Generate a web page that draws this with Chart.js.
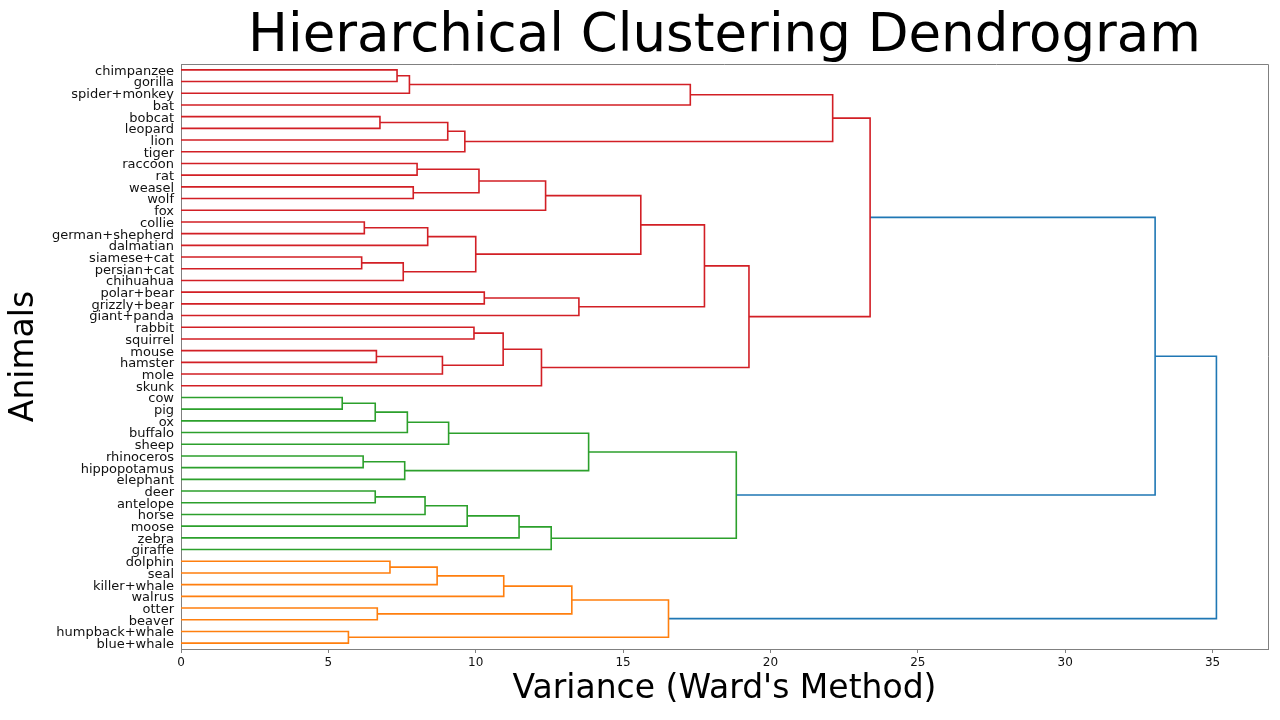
<!DOCTYPE html>
<html><head><meta charset="utf-8">
<script src="https://cdn.jsdelivr.net/npm/chart.js@4.4.1/dist/chart.umd.min.js"></script>
<style>html,body{margin:0;padding:0;background:#fff;}</style>
</head><body>
<canvas id="c" width="1280" height="720"></canvas>
<script>
// Leaves, listed from top to bottom
const leafLabels = [
  'chimpanzee','gorilla','spider+monkey','bat','bobcat','leopard','lion','tiger',
  'raccoon','rat','weasel','wolf','fox','collie','german+shepherd','dalmatian',
  'siamese+cat','persian+cat','chihuahua','polar+bear','grizzly+bear','giant+panda',
  'rabbit','squirrel','mouse','hamster','mole','skunk',
  'cow','pig','ox','buffalo','sheep','rhinoceros','hippopotamus','elephant',
  'deer','antelope','horse','moose','zebra','giraffe',
  'dolphin','seal','killer+whale','walrus','otter','beaver','humpback+whale','blue+whale'
];
// Links: child A, child B (leaf name or earlier link index), merge height, cluster group
const linkA = [
  'chimpanzee',0,1,'bobcat',3,4,2,'raccoon','weasel',7,9,'collie',11,'siamese+cat',13,12,10,'polar+bear',17,16,'rabbit','mouse',21,20,23,19,6,
  'cow',27,28,29,'rhinoceros',31,30,'deer',34,35,36,37,33,
  'dolphin',40,41,'otter',42,'humpback+whale',44,
  26,47
];
const linkB = [
  'gorilla','spider+monkey','bat','leopard','lion','tiger',5,'rat','wolf',8,'fox','german+shepherd','dalmatian','persian+cat','chihuahua',14,15,'grizzly+bear','giant+panda',18,'squirrel','hamster','mole',22,'skunk',24,25,
  'pig','ox','buffalo','sheep','hippopotamus','elephant',32,'antelope','horse','moose','zebra','giraffe',38,
  'seal','killer+whale','walrus','beaver',43,'blue+whale',45,
  39,46
];
const linkHeight = [
  7.33,7.75,17.28,6.75,9.05,9.63,22.11,8.01,7.88,10.11,12.37,6.22,8.37,6.13,7.54,10.0,15.6,10.29,13.5,17.76,9.94,6.63,8.87,10.93,12.23,19.27,23.38,
  5.47,6.59,7.68,9.08,6.18,7.59,13.83,6.59,8.28,9.71,11.47,12.56,18.84,
  7.09,8.69,10.95,6.66,13.26,5.68,16.54,
  33.05,35.13
];
const linkGroup = [
  'C3','C3','C3','C3','C3','C3','C3','C3','C3','C3','C3','C3','C3','C3','C3','C3','C3','C3','C3','C3','C3','C3','C3','C3','C3','C3','C3',
  'C2','C2','C2','C2','C2','C2','C2','C2','C2','C2','C2','C2','C2',
  'C1','C1','C1','C1','C1','C1','C1',
  'C0','C0'
];
const xTickValues = [0,5,10,15,20,25,30,35];
const xAxisMax = 36.88;

const groupColors = {C0:'#1f77b4', C1:'#ff7f0e', C2:'#2ca02c', C3:'#d21f25'};
const FONT = "'DejaVu Sans', sans-serif";

// leaf coordinate in dendrogram units (scipy style: 5, 15, 25 ... from bottom)
const nLeaf = leafLabels.length;
const leafPos = {};
leafLabels.forEach((n,i)=>{ leafPos[n] = 10*(nLeaf-1-i)+5; });
const nodeY = [], nodeH = [];
function childInfo(c){
  if (typeof c === 'string') return {y: leafPos[c], h: 0};
  return {y: nodeY[c], h: nodeH[c]};
}
const datasets = [];
for (let k=0;k<linkHeight.length;k++){
  const a = childInfo(linkA[k]), b = childInfo(linkB[k]);
  const h = linkHeight[k];
  nodeY[k] = (a.y+b.y)/2; nodeH[k] = h;
  datasets.push({
    data:[{x:a.h,y:a.y},{x:h,y:a.y},{x:h,y:b.y},{x:b.h,y:b.y}],
    showLine:true, borderColor: groupColors[linkGroup[k]], borderWidth:1.6,
    pointRadius:0, pointHoverRadius:0, fill:false, tension:0
  });
}
const labelByPos = {};
leafLabels.forEach(n=>{ labelByPos[leafPos[n]] = n; });

const frame = {
  id:'frame',
  afterDraw(chart){
    const {ctx, chartArea:a} = chart;
    ctx.save();
    ctx.strokeStyle = '#808080'; ctx.lineWidth = 1;
    ctx.beginPath();
    ctx.moveTo(a.left, a.top+0.5); ctx.lineTo(a.right+0.5, a.top+0.5);
    ctx.lineTo(a.right+0.5, a.bottom);
    ctx.stroke();
    ctx.restore();
  }
};

new Chart(document.getElementById('c'), {
  type:'scatter',
  data:{datasets},
  plugins:[frame],
  options:{
    responsive:false, animation:false, devicePixelRatio:1,
    layout:{padding:{left:0,right:12,top:0,bottom:0}},
    plugins:{
      legend:{display:false}, tooltip:{enabled:false},
      title:{display:true, fullSize:false, text:'Hierarchical Clustering Dendrogram', color:'#000',
        font:{family:FONT,size:53,weight:'normal',lineHeight:1}, padding:{top:11,bottom:0}}
    },
    scales:{
      x:{type:'linear', min:0, max:xAxisMax,
        afterBuildTicks(s){ s.ticks = xTickValues.map(v=>({value:v})); },
        afterFit(s){ s.height = 71; },
        grid:{drawOnChartArea:false, tickLength:4, tickColor:'#808080'},
        border:{color:'#808080', width:1},
        ticks:{padding:3, color:'#111', font:{family:FONT,size:12}, autoSkip:false, maxRotation:0},
        title:{display:true, text:"Variance (Ward's Method)", color:'#000', font:{family:FONT,size:33}, padding:{top:0,bottom:11}}
      },
      y:{type:'linear', min:0, max:10*nLeaf,
        afterBuildTicks(s){ s.ticks = Object.keys(labelByPos).map(Number).sort((p,q)=>p-q).map(v=>({value:v})); },
        afterFit(s){ s.width = 181; },
        grid:{drawOnChartArea:false, tickLength:4, tickColor:'rgba(0,0,0,0)'},
        border:{color:'#808080', width:1},
        ticks:{padding:3, color:'#111', labelOffset:1.5, font:{family:FONT,size:13,lineHeight:1}, autoSkip:false,
          callback:(v)=>labelByPos[v] || ''},
        title:{display:true, text:'Animals', color:'#000', font:{family:FONT,size:33}, padding:{top:5,bottom:0}}
      }
    }
  }
});
</script>
</body></html>
